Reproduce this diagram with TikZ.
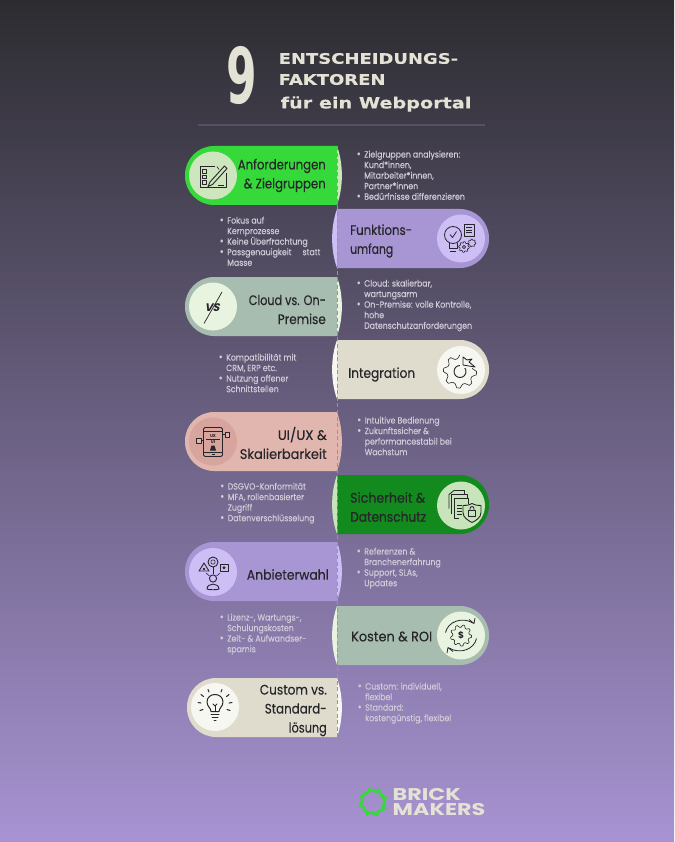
\documentclass[tikz,border=0pt]{standalone}
\usepackage{graphicx}
\usepackage{fontspec}
\setmainfont{Poppins}
\newfontfamily\plf{Poppins}[FakeBold=0.25]
\newfontfamily\lstf{Poppins}[FakeStretch=0.87,FakeBold=0.2]
\newfontfamily\titf{DejaVu Sans}[FakeStretch=1.24,FakeBold=0.35]
\newfontfamily\logof{Poppins}[FakeStretch=1.31]
\newfontfamily\ninef{DejaVu Sans}
\definecolor{bgtop}{RGB}{44,44,48}
\definecolor{bgbot}{RGB}{167,147,210}
\definecolor{cream}{RGB}{228,226,212}
\definecolor{listc}{RGB}{208,203,216}
\definecolor{ink}{RGB}{38,38,42}
\definecolor{spinec}{RGB}{150,148,156}
\definecolor{gA}{RGB}{54,217,58}\definecolor{gAl}{RGB}{205,230,190}
\definecolor{pB}{RGB}{167,149,212}\definecolor{pBl}{RGB}{205,190,246}
\definecolor{sC}{RGB}{167,189,176}\definecolor{sCl}{RGB}{232,244,224}
\definecolor{eD}{RGB}{223,220,205}\definecolor{eDl}{RGB}{247,247,242}
\definecolor{rE}{RGB}{224,182,174}\definecolor{rEl}{RGB}{215,164,158}
\definecolor{dF}{RGB}{18,138,30}\definecolor{dFl}{RGB}{200,228,186}
\newcommand{\pillL}[5]{% top, bottom, left, fill, light
  \fill[#4] (337,#1) [rounded corners=29pt] -- (#3,#1) -- (#3,#2) [sharp corners] -- (337,#2) -- cycle;
  \fill[#5] (337,#1) .. controls (343.5,#1+18) and (343.5,#2-18) .. (337,#2) -- cycle;
}
\newcommand{\pillR}[5]{% top, bottom, right, fill, light
  \fill[#4] (337,#1) [rounded corners=29pt] -- (#3,#1) -- (#3,#2) [sharp corners] -- (337,#2) -- cycle;
  \fill[#5] (337,#1) .. controls (330.5,#1+18) and (330.5,#2-18) .. (337,#2) -- cycle;
}
\newcommand{\fw}[2]{\resizebox{#1pt}{\height}{#2}}
\newcommand{\itm}[1]{\makebox[0pt][r]{\fontsize{11}{10}\selectfont\char"2022\hspace{3.5pt}}#1}
\newcommand{\gearp}[4]{% cx cy r teeth
  \draw[ic] plot[domain=0:{4*#4},samples={4*#4+1}] ({#1+#3*(ifthenelse(mod(round(\x),4)<2,1.28,1))*cos(\x*90/#4)},{#2+#3*(ifthenelse(mod(round(\x),4)<2,1.28,1))*sin(\x*90/#4)});
}
\tikzset{
  pl/.style={font=\plf\fontsize{13.8}{19}\selectfont,text=ink,inner sep=0pt},
  plR/.style={pl,align=right,anchor=east},
  plL/.style={pl,align=left,anchor=west},
  lst/.style={font=\lstf\fontsize{9}{10.55}\selectfont,text=listc,inner sep=0pt,align=left,anchor=north west},
  ic/.style={draw=ink,line width=.6pt,line join=round,fill=none},
  icb/.style={draw=ink,line width=1pt,line join=round,line cap=round,fill=none},
}
\begin{document}
\begin{tikzpicture}[x=1pt,y=-1pt]
\useasboundingbox (0,0) rectangle (674,842);
\shade[top color=bgtop,bottom color=bgbot] (0,0) rectangle (674,842);
% title
\node[inner sep=0pt,text=cream,anchor=center,xscale=.57] (nine) at (242,76) {\ninef\bfseries\fontsize{77}{77}\selectfont 9};
\node[inner sep=0pt,text=cream,anchor=west] (t1) at (278.5,58.5) {\titf\bfseries\fontsize{14.5}{16}\selectfont ENTSCHEIDUNGS-};
\node[inner sep=0pt,text=cream,anchor=west] (t2) at (278.5,79.5) {\titf\bfseries\fontsize{14.5}{16}\selectfont FAKTOREN};
\node[inner sep=0pt,text=cream,anchor=west] (t3) at (280.5,104) {\titf\bfseries\fontsize{15.5}{18}\selectfont für ein Webportal};
\coordinate (ruleL) at (198,125);\coordinate (ruleR) at (485,125);
\draw[line width=1.8pt,color=black!30!bgbot!60!bgtop] (ruleL) -- (ruleR);
% pills
\pillL{146}{205}{185}{gA}{gAl}
\pillR{209}{268}{489}{pB}{pBl}
\pillL{277}{336}{185}{sC}{sCl}
\pillR{340}{399}{489}{eD}{eDl}
\pillL{412}{471}{185}{rE}{rE}
\pillR{475}{534}{489}{dF}{dFl}
\pillL{542}{601}{185}{pB}{pBl}
\pillR{606}{665}{489}{sC}{sCl}
\pillL{678}{737}{187}{eD}{eDl}
% spine
\coordinate (spineT) at (337,146);\coordinate (spineB) at (337,737);
\draw[spinec,line width=1pt,dash pattern=on 4pt off 2.6pt] (spineT) -- (spineB);
% circles
\fill[gAl] (213,175.5) circle[radius=24];
\fill[pBl] (461,238.5) circle[radius=24];
\fill[sCl] (213,306.5) circle[radius=24];
\fill[eDl] (461,370) circle[radius=24];
\fill[rEl] (213,441.5) circle[radius=24];
\fill[dFl] (461,505.5) circle[radius=24];
\fill[pBl] (213,572) circle[radius=24];
\fill[sCl] (461,635.5) circle[radius=24];
\fill[eDl] (215,707) circle[radius=24];
% labels
\node[plR] (a) at (326,175.5) {\fw{88}{Anforderungen}\\\fw{82}{\& Zielgruppen}};
\node[plL] (b) at (350,241) {\fw{62}{Funktions-}\\\fw{43}{umfang}};
\node[plR] (c) at (326,309.5) {\fw{77}{Cloud vs. On-}\\\fw{48}{Premise}};
\node[plL] (d) at (348,374.5) {\fw{67}{Integration}};
\node[plR] (e) at (327,443) {\fw{49}{UI/UX \&}\\\fw{87}{Skalierbarkeit}};
\node[plL] (f) at (350,507) {\fw{75}{Sicherheit \&}\\\fw{76}{Datenschutz}};
\node[plR] (g) at (329,574.5) {\fw{82}{Anbieterwahl}};
\node[plL] (h) at (351,636.5) {\fw{81}{Kosten \& ROI}};
\node[plR] (i) at (327,710.5) {\fw{67}{Custom vs.}\\\fw{62}{Standard-}\\\fw{38}{lösung}};
% lists
\node[lst] (la) at (364,150.5) {\itm{Zielgruppen analysieren:}\\Kund*innen,\\Mitarbeiter*innen,\\Partner*innen\\\itm{Bedürfnisse differenzieren}};
\node[lst] (lb) at (227,216.5) {\itm{Fokus auf}\\Kernprozesse\\\itm{Keine Überfrachtung}\\\itm{Passgenauigkeit\hspace{11pt}statt}\\Masse};
\node[lst] (lc) at (364,279.5) {\itm{Cloud: skalierbar,}\\wartungsarm\\\itm{On-Premise: volle Kontrolle,}\\hohe\\Datenschutzanforderungen};
\node[lst] (ld) at (226,353.5) {\itm{Kompatibilität mit}\\CRM, ERP etc.\\\itm{Nutzung offener}\\Schnittstellen};
\node[lst] (le) at (364.5,416.5) {\itm{Intuitive Bedienung}\\\itm{Zukunftssicher \&}\\performancestabil bei\\Wachstum};
\node[lst] (lf) at (227.5,482.5) {\itm{DSGVO-Konformität}\\\itm{MFA, rollenbasierter}\\Zugriff\\\itm{Datenverschlüsselung}};
\node[lst] (lg) at (364,547.5) {\itm{Referenzen \&}\\Branchenerfahrung\\\itm{Support, SLAs,}\\Updates};
\node[lst] (lh) at (227,613.5) {\itm{Lizenz-, Wartungs-,}\\Schulungskosten\\\itm{Zeit- \& Aufwandser-}\\sparnis};
\node[lst] (li) at (365,682.5) {\itm{Custom: individuell,}\\flexibel\\\itm{Standard:}\\kostengünstig, flexibel};
% icon 1: checklist
\begin{scope}[shift={(213,175.5)}]
  \draw[ic,line width=.8pt] (2,-9) -- (-13,-9) -- (-13,12) -- (13,12) -- (13,-2);
  \foreach \y in {-4,1.5,7}{\draw[ic,line width=.8pt] (-10.5,\y-1.6) rectangle (-6.5,\y+1.6);}
  \draw[ic,line width=.9pt] (-3,6.5) -- (-5,11) -- (-0.5,9) -- (14,-7) -- (11.5,-9.5) -- cycle;
  \draw[ic] (4,-9) -- (6,-6);
  \draw[ic] (5,9.5) -- (11,9.5);
\end{scope}
% icon 2: bulb + doc + gear
\begin{scope}[shift={(461,238.5)}]
  \draw[ic,line width=.8pt] (-8,-3.5) circle[radius=8.5];
  \draw[ic,line width=.8pt] (-12,4) -- (-12,10) -- (-4,10) -- (-4,4);
  \draw[ic,line width=.8pt] (-11,12.5) -- (-5,12.5);
  \draw[ic,line width=.8pt] (-11,-4) -- (-8.5,-1) -- (-4.5,-7);
  \draw[ic,line width=.8pt] (3,-14) rectangle (13,-2);
  \foreach \y in {-11,-8.5,-6}{\draw[ic] (5,\y) -- (11,\y);}
  \gearp{3}{8.5}{4.2}{8}
  \draw[ic] (3,8.5) circle[radius=1.6];
  \gearp{11}{4.5}{3}{7}
\end{scope}
% icon 3: VS
\begin{scope}[shift={(213,306.5)}]
  \coordinate (vsA) at (9,-14.5);\coordinate (vsB) at (-9,17);
  \draw[ink,line width=.7pt] (vsA) -- (vsB);
  \node[inner sep=0pt,text=ink,xslant=.25] (vs) at (0,1.5) {\fontsize{11}{12}\selectfont\bfseries VS};
\end{scope}
% icon 4: gear + puzzle
\begin{scope}[shift={(461,370)}]
  \gearp{-1}{1.5}{13}{8}
  \draw[ic,line width=.9pt] (-1,1.5) circle[radius=6];
  \fill[eDl] (-1,-2) rectangle (14,-16);
  \draw[ic,line width=.9pt] (2,-13) -- (2,-5) -- (14,-3) -- (8,-8) -- (11,-11) -- (6,-10) -- cycle;
\end{scope}
% icon 5: phone UI/UX
\begin{scope}[shift={(213,441.5)}]
  \draw[ic,line width=.9pt,rounded corners=1.5pt] (-9.5,-14) rectangle (9.5,15);
  \draw[ic] (-9.5,-10.5) -- (9.5,-10.5);
  \draw[ic] (-9.5,10.5) -- (9.5,10.5);
  \draw[ic] (-1.5,13) -- (1.5,13);
  \node[inner sep=0pt,text=ink] (ux) at (0,-5.5) {\fontsize{4.2}{5}\selectfont\bfseries UX};
  \node[inner sep=0pt,text=ink] (ui) at (0,0.5) {\fontsize{4.2}{5}\selectfont\bfseries UI};
  \fill[ink] (-3,9) -- (3,9) -- (1.5,4) -- (-1.5,4) -- cycle;
  \draw[ic] (-7,-2.5) -- (7,-2.5);
  \draw[ic,line width=.9pt] (9.5,-7) -- (12,-7);
  \draw[ic,fill=rE] (12,-9.5) rectangle (16.5,-4.5);
  \draw[ic,line width=.9pt] (-9.5,-1) -- (-12,-1);
  \draw[ic,fill=rE] (-17,-3.5) rectangle (-12,1.5);
\end{scope}
% icon 6: docs + shield
\begin{scope}[shift={(461,505.5)}]
  \draw[ic,line width=.8pt] (-7,-15) -- (3,-15) -- (3,-12);
  \draw[ic,line width=.8pt] (-7,-15) -- (-12,-11) -- (-12,3);
  \draw[ic,line width=.8pt] (-10,-11) -- (6,-11) -- (6,-8);
  \draw[ic,line width=.8pt] (-10,-11) -- (-10,8);
  \draw[ic,line width=.8pt] (-2,13) -- (-7,13) -- (-7,-7) -- (7,-7) -- (7,-2);
  \foreach \y in {0,3,6,9}{\draw[ic] (-4,\y) -- (1,\y);}
  \draw[ic,line width=.9pt] (11,-2) .. controls (7,0) and (5,0) .. (2,0) -- (2,7) .. controls (2,12) and (7,15) .. (11,17) .. controls (15,15) and (20,12) .. (20,7) -- (20,0) .. controls (17,0) and (15,0) .. (11,-2) -- cycle;
  \draw[ic,line width=.9pt] (7.5,5) rectangle (14.5,11);
  \draw[ic,line width=.9pt] (9,5) -- (9,3) .. controls (9,0.5) and (13,0.5) .. (13,3) -- (13,5);
\end{scope}
% icon 7: shapes + person
\begin{scope}[shift={(213,572)}]
  \draw[ic,line width=.9pt] (0,6.5) circle[radius=3.6];
  \draw[ic,line width=.9pt] (-6,17) .. controls (-6,10.5) and (6,10.5) .. (6,17) .. controls (4,18) and (-4,18) .. (-6,17) -- cycle;
  \draw[ic,line width=.9pt] (0,-10) circle[radius=5];
  \draw[ic] (0,-10) circle[radius=2.2];
  \draw[ic,line width=.9pt] (-14,-1) -- (-9,-9) -- (-4,-1) -- cycle;
  \fill[ink] (-9,-3) circle[radius=1.4];
  \draw[ic,line width=.9pt] (7,-8) rectangle (15,-0.5);
  \fill[ink] (11,-4.2) circle[radius=1.6];
  \draw[ic] (0,-5) -- (0,2);
  \draw[ic] (-7,1) -- (-3.5,4);
  \draw[ic] (7,1) -- (3.5,4);
\end{scope}
% icon 8: gear + $ + arrows
\begin{scope}[shift={(461,635.5)}]
  \gearp{0}{0}{8.3}{9}
  \node[inner sep=0pt,text=ink] (dollar) at (0,0) {\fontsize{9}{10}\selectfont\bfseries\$};
  \draw[ic,line width=.8pt] (-15.5,-3) .. controls (-13,-14) and (1,-19) .. (12,-12.5);
  \draw[ic,line width=.8pt] (15.5,3) .. controls (13,14) and (-1,19) .. (-12,12.5);
  \draw[ic,line width=.8pt] (8,-16) -- (13,-12) -- (14,-17.5);
  \draw[ic,line width=.8pt] (-8,16) -- (-13,12) -- (-14,17.5);
\end{scope}
% icon 9: bulb with rays
\begin{scope}[shift={(215,707)}]
  \draw[icb] (-4,4.5) .. controls (-4,1) and (-8,-0.5) .. (-8,-5) .. controls (-8,-15) and (8,-15) .. (8,-5) .. controls (8,-0.5) and (4,1) .. (4,4.5) -- cycle;
  \draw[icb] (-4,7.5) -- (4,7.5);
  \draw[icb] (-3,10.5) -- (3,10.5);
  \draw[icb] (-1,13) -- (1,13);
  \draw[icb] (-2,-3) -- (0,-1) -- (2,-3);
  \draw[icb] (0,-1) -- (0,4.5);
  \draw[icb] (-17,-4.5) -- (-14,-4);
  \draw[icb] (14,-4) -- (17,-4.5);
  \draw[icb] (-15,3.5) -- (-12,2.5);
  \draw[icb] (12,2.5) -- (15,3.5);
  \draw[icb] (-14,-12.5) -- (-11.5,-10.5);
  \draw[icb] (14,-12.5) -- (11.5,-10.5);
  \draw[icb] (-7,-17.5) -- (-6,-15);
  \draw[icb] (7,-17.5) -- (6,-15);
\end{scope}
% logo
\begin{scope}[shift={(373,802)}]
  \foreach \a in {0,45,...,315}{
    \begin{scope}[rotate=\a]
      \fill[gA] (-5.2,-14.2) -- (5.4,-11.2) -- (4.6,-8.6) -- (-6,-11.6) -- cycle;
    \end{scope}
  }
\end{scope}
\node[inner sep=0pt,text=cream,anchor=west,align=left,font=\logof\bfseries\fontsize{17}{15}\selectfont] (brick) at (392.5,802) {BRICK\\MAKERS};
\end{tikzpicture}
\end{document}
